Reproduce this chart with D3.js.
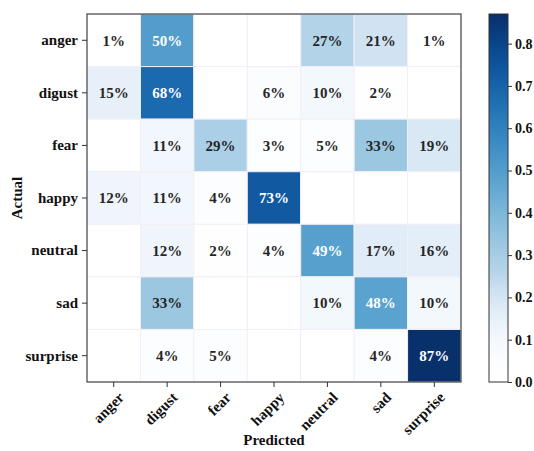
<!DOCTYPE html>
<html>
<head>
<meta charset="utf-8">
<script src="https://cdn.jsdelivr.net/npm/d3@7"></script>
<style>
  body { margin: 0; background: #fff; }
</style>
</head>
<body>
<div id="chart"></div>
<script>
var svgWidth = 534;
var svgHeight = 451;
var serif = "'Liberation Serif', 'Times New Roman', serif";

// labels and confusion matrix values (row = actual, column = predicted)
var classes = ["anger", "digust", "fear", "happy", "neutral", "sad", "surprise"];
var matrix = [
  [0.01, 0.50, 0.00, 0.00, 0.27, 0.21, 0.01],
  [0.15, 0.68, 0.00, 0.06, 0.10, 0.02, 0.00],
  [0.00, 0.11, 0.29, 0.03, 0.05, 0.33, 0.19],
  [0.12, 0.11, 0.04, 0.73, 0.00, 0.00, 0.00],
  [0.00, 0.12, 0.02, 0.04, 0.49, 0.17, 0.16],
  [0.00, 0.33, 0.00, 0.00, 0.10, 0.48, 0.10],
  [0.00, 0.04, 0.05, 0.00, 0.00, 0.04, 0.87]
];
var colorTicks = [0.0, 0.1, 0.2, 0.3, 0.4, 0.5, 0.6, 0.7, 0.8];

var margin = { top: 14, left: 87 };
var width = 374;
var height = 368;

var svg = d3.select("#chart")
  .append("svg")
  .attr("width", svgWidth)
  .attr("height", svgHeight);

var chartGroup = svg.append("g")
  .attr("transform", `translate(${margin.left}, ${margin.top})`);

var vmax = d3.max(matrix, r => d3.max(r));

var xScale = d3.scaleBand().domain(classes).range([0, width]);
var yScale = d3.scaleBand().domain(classes).range([0, height]);

// Blues, washed a little toward white at the low end (the source looks lighter)
var blues = t => d3.interpolateRgb("#ffffff", d3.interpolateBlues(t))(Math.min(1, t / 0.3));
var color = d3.scaleSequential(blues).domain([0, vmax]);

// flatten to cells
var cells = [];
matrix.forEach(function(row, i) {
  row.forEach(function(v, j) {
    cells.push({ actual: classes[i], predicted: classes[j], value: v });
  });
});

chartGroup.selectAll(".cell")
  .data(cells)
  .enter()
  .append("rect")
  .attr("x", d => xScale(d.predicted))
  .attr("y", d => yScale(d.actual))
  .attr("width", xScale.bandwidth())
  .attr("height", yScale.bandwidth())
  .attr("fill", d => color(d.value))
  .attr("stroke", "#f3eef7")
  .attr("stroke-width", 1);

chartGroup.selectAll(".cellText")
  .data(cells.filter(d => d.value > 0))
  .enter()
  .append("text")
  .attr("x", d => xScale(d.predicted) + xScale.bandwidth() / 2)
  .attr("y", d => yScale(d.actual) + yScale.bandwidth() / 2)
  .attr("dy", "0.35em")
  .attr("text-anchor", "middle")
  .attr("font-family", serif)
  .attr("font-weight", "bold")
  .attr("font-size", "15px")
  .attr("fill", d => d.value > vmax / 2 ? "#ffffff" : "#262626")
  .text(d => Math.round(d.value * 100) + "%");

// frame
chartGroup.append("rect")
  .attr("width", width)
  .attr("height", height)
  .attr("fill", "none")
  .attr("stroke", "#444")
  .attr("stroke-width", 1.2);

// axes
var leftAxis = d3.axisLeft(yScale).tickSize(5).tickPadding(4);
var bottomAxis = d3.axisBottom(xScale).tickSize(5).tickPadding(4);

var yAxisG = chartGroup.append("g").call(leftAxis);
yAxisG.select(".domain").remove();
yAxisG.selectAll("line").attr("stroke", "#333");
yAxisG.selectAll("text")
  .attr("font-size", "15px")
  .attr("font-family", serif)
  .attr("font-weight", "bold")
  .attr("fill", "#111");

var xAxisG = chartGroup.append("g")
  .attr("transform", `translate(0, ${height})`)
  .call(bottomAxis);
xAxisG.select(".domain").remove();
xAxisG.selectAll("line").attr("stroke", "#333");
xAxisG.selectAll("text")
  .attr("font-size", "15px")
  .attr("font-family", serif)
  .attr("font-weight", "bold")
  .attr("fill", "#111")
  .attr("text-anchor", "end")
  .attr("dy", "0")
  .attr("transform", "translate(5, 10) rotate(-45)");

// axis titles
chartGroup.append("text")
  .attr("transform", "rotate(-90)")
  .attr("x", -height / 2)
  .attr("y", -margin.left + 22)
  .attr("text-anchor", "middle")
  .attr("font-family", serif)
  .attr("font-weight", "bold")
  .attr("font-size", "15px")
  .attr("fill", "#111")
  .text("Actual");

chartGroup.append("text")
  .attr("x", width / 2)
  .attr("y", height + 63)
  .attr("text-anchor", "middle")
  .attr("font-family", serif)
  .attr("font-weight", "bold")
  .attr("font-size", "15px")
  .attr("fill", "#111")
  .text("Predicted");

// colorbar
var cbX = 489, cbW = 19;
var cbScale = d3.scaleLinear().domain([0, vmax]).range([margin.top + height, margin.top]);

var defs = svg.append("defs");
var grad = defs.append("linearGradient")
  .attr("id", "cbGrad")
  .attr("x1", "0").attr("y1", "1").attr("x2", "0").attr("y2", "0");
d3.range(0, 1.0001, 0.05).forEach(function(t) {
  grad.append("stop")
    .attr("offset", t)
    .attr("stop-color", blues(t));
});

svg.append("rect")
  .attr("x", cbX)
  .attr("y", margin.top)
  .attr("width", cbW)
  .attr("height", height)
  .attr("fill", "url(#cbGrad)")
  .attr("stroke", "#333")
  .attr("stroke-width", 1);

var cbAxis = d3.axisRight(cbScale).tickValues(colorTicks).tickFormat(d3.format(".1f")).tickSize(4).tickPadding(3);
var cbG = svg.append("g")
  .attr("transform", `translate(${cbX + cbW}, 0)`)
  .call(cbAxis);
cbG.select(".domain").remove();
cbG.selectAll("line").attr("stroke", "#333");
cbG.selectAll("text")
  .attr("font-size", "14px")
  .attr("font-family", serif)
  .attr("font-weight", "bold")
  .attr("fill", "#111");
</script>
</body>
</html>
